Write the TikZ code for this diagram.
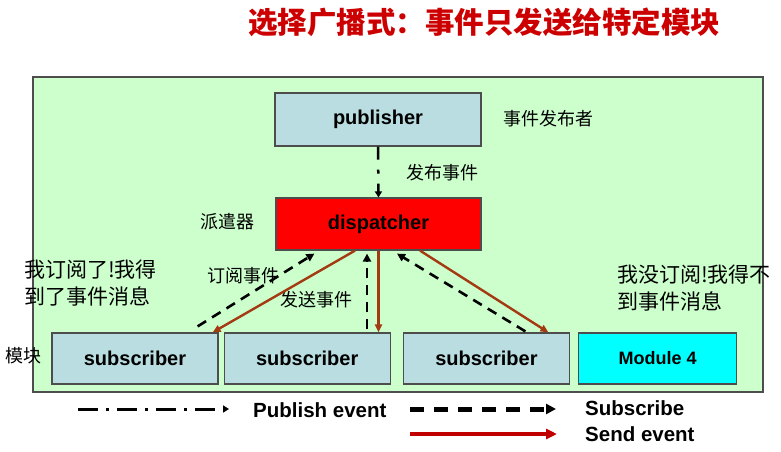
\documentclass[tikz,border=0pt]{standalone}
\usepackage{fontspec}
\setmainfont{Liberation Sans}
\newfontfamily\cjk{Noto Sans CJK SC}
\usepackage{xcolor}
\definecolor{clPanel}{HTML}{CCFFCC}
\definecolor{clBox}{HTML}{B9DDE0}
\definecolor{clModule}{HTML}{00FFFF}
\definecolor{clDispatch}{HTML}{FF0000}
\definecolor{clSend}{HTML}{A33A12}
\definecolor{clLegend}{HTML}{C00000}
\definecolor{clTitle}{HTML}{CC0000}
\definecolor{clEdge}{HTML}{4D4D4D}
\usepackage{tikz}
\usetikzlibrary{arrows.meta,positioning,calc}
\tikzset{
  box/.style={rectangle, draw=clEdge, line width=1.2pt, fill=clBox, inner sep=0pt,
              minimum width=166pt, minimum height=51pt, font=\bfseries\fontsize{20}{24}\selectfont},
  hub/.style={box, fill=clDispatch, minimum width=205pt, minimum height=52pt},
  unsub/.style={box, fill=clModule, minimum width=158pt, font=\bfseries\fontsize{18}{22}\selectfont},
  note/.style={font=\cjk\fontsize{18}{22}\selectfont, anchor=west, inner sep=0pt},
  remark/.style={font=\cjk\fontsize{21}{27}\selectfont, anchor=west, align=left, inner sep=0pt},
  keytext/.style={font=\bfseries\fontsize{20.5}{24}\selectfont, anchor=west, inner sep=0pt},
  publish/.style={-{Triangle[length=6pt,width=7pt]}, line width=2.5pt,
                  dash pattern=on 13pt off 10pt on 4pt off 10pt},
  subscribe/.style={-{Triangle[length=8pt,width=8pt]}, line width=2.6pt, dash pattern=on 10pt off 7pt},
  send/.style={-{Triangle[length=8pt,width=7pt]}, line width=2.4pt, draw=clSend},
  keypublish/.style={-{Triangle[length=6pt,width=7pt]}, line width=3pt,
                     dash pattern=on 20pt off 8pt on 3pt off 8pt},
  keysubscribe/.style={-{Triangle[length=10pt,width=10pt]}, line width=5pt, dash pattern=on 14pt off 10pt},
  keysend/.style={-{Triangle[length=11pt,width=10pt]}, line width=3.5pt, draw=clLegend},
}
\begin{document}
\begin{tikzpicture}[x=1pt, y=-1pt]
  \useasboundingbox (0,0) rectangle (781,452);
  \filldraw[fill=clPanel, draw=clEdge, line width=1.5pt] (33,77) rectangle (763,392);
  \node[font=\cjk\bfseries\fontsize{29.5}{34}\selectfont, text=clTitle] (title) at (484,22) {选择广播式：事件只发送给特定模块};
  \node[box, minimum width=206pt, minimum height=53pt] (pub) at (378,119.5) {publisher};
  \node[hub] (disp) at (378.5,224) {dispatcher};
  \node[box] (sub1) at (135,358.5) {subscriber};
  \node[box, right=5pt of sub1] (sub2) {subscriber};
  \node[box, right=12pt of sub2] (sub3) {subscriber};
  \node[unsub, right=8pt of sub3] (mod4) {Module 4};
  \node[note] (pubnote) at (503,119) {事件发布者};
  \node[note] (pubflow) at (406,173) {发布事件};
  \node[note] (dispnote) at (200,222) {派遣器};
  \node[note] (subflow) at (207,276) {订阅事件};
  \node[note] (sendflow) at (280,300) {发送事件};
  \node[note] (modnote) at (5,356) {模块};
  \node[remark] (gotnote) at (24,283.5) {我订阅了!我得\\到了事件消息};
  \node[remark] (missnote) at (617,288.5) {我没订阅!我得不\\到事件消息};
  \draw[publish] (pub.south) -- (disp.north);
  \draw[subscribe] ([shift={(-21,-6)}]sub1.north east) -- ([shift={(39,3)}]disp.south west);
  \draw[send] ([xshift=-23.5pt]disp.south) -- ([xshift=-6pt]sub1.north east);
  \draw[subscribe] ([shift={(-11.5,-3)}]disp.south |- sub2.north) -- ([shift={(-11.5,3)}]disp.south);
  \draw[send] (disp.south) -- (disp.south |- sub2.north);
  \draw[subscribe] ([shift={(39,-1)}]sub3.north) -- ([shift={(18.5,3)}]disp.south);
  \draw[send] ([xshift=41.5pt]disp.south) -- ([xshift=62pt]sub3.north);
  \coordinate (pubA) at (78,409);
  \coordinate (pubB) at (229,409);
  \coordinate (subA) at (410,409);
  \coordinate (subB) at (556,409);
  \coordinate (sendA) at (410,434);
  \coordinate (sendB) at (557,434);
  \draw[keypublish] (pubA) -- (pubB);
  \draw[keysubscribe] (subA) -- (subB);
  \draw[keysend] (sendA) -- (sendB);
  \node[keytext] (pubkey) at (253,410) {Publish event};
  \node[keytext] (subkey) at (585,408) {Subscribe};
  \node[keytext] (sendkey) at (585,434) {Send event};
\end{tikzpicture}
\end{document}
